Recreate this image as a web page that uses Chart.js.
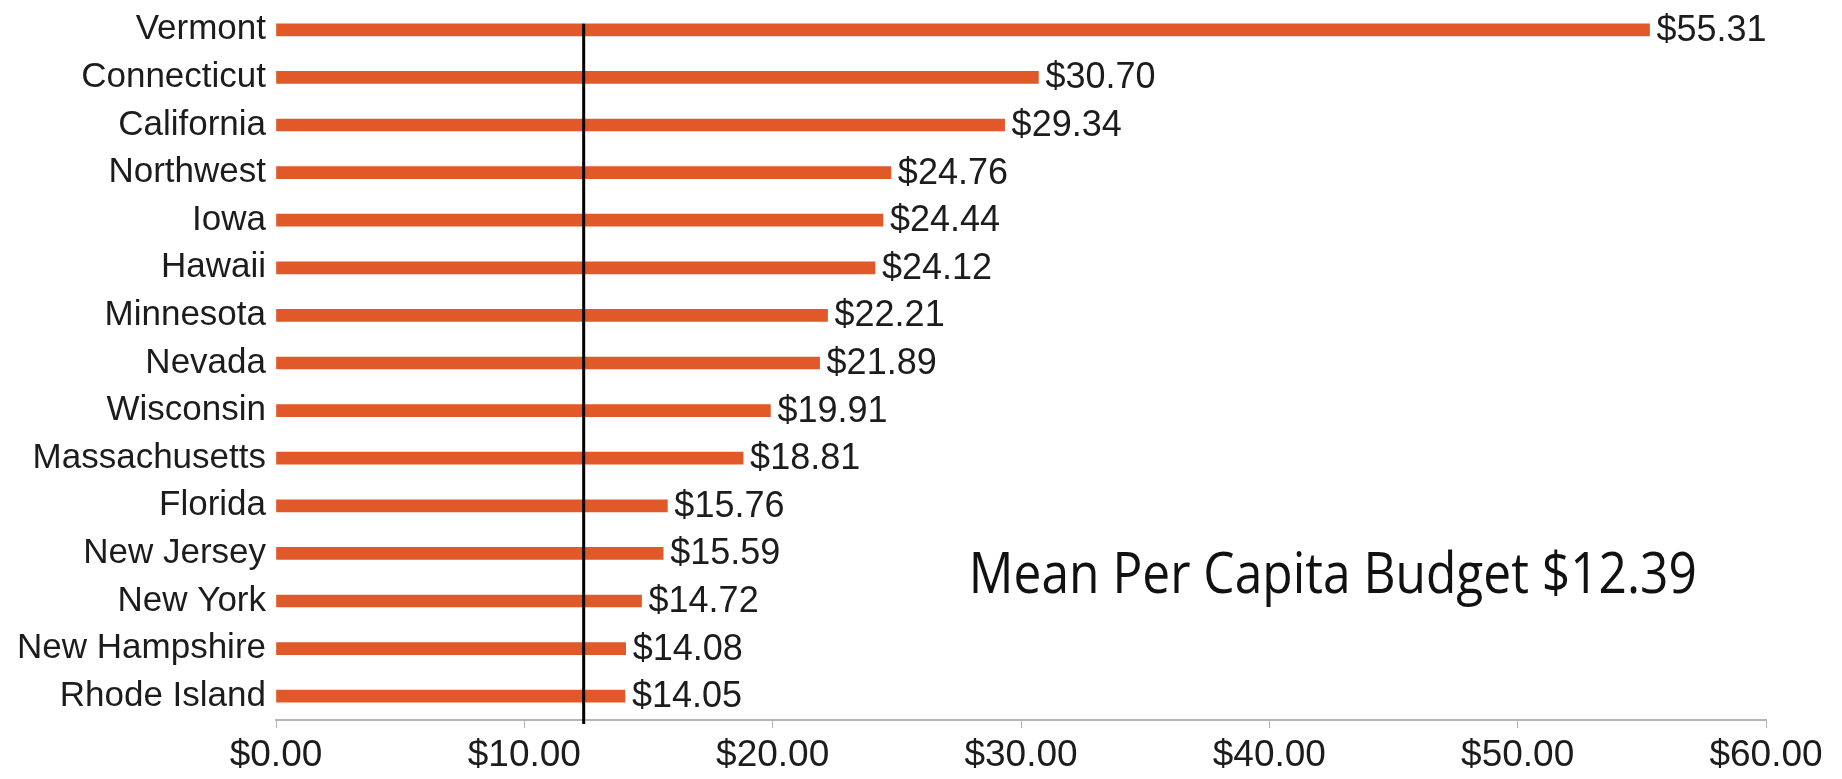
<!DOCTYPE html>
<html>
<head>
<meta charset="utf-8">
<script src="https://cdn.jsdelivr.net/npm/chart.js@4/dist/chart.umd.min.js"></script>
<style>
  html, body { margin: 0; padding: 0; background: #fff; }
  #wrap { width: 1842px; height: 779px; position: relative; }
</style>
</head>
<body>
<div id="wrap"><canvas id="chart"></canvas></div>
<script>
// data
const states = ["Vermont", "Connecticut", "California", "Northwest", "Iowa", "Hawaii",
  "Minnesota", "Nevada", "Wisconsin", "Massachusetts", "Florida", "New Jersey",
  "New York", "New Hampshire", "Rhode Island"]
const budget = [55.31, 30.70, 29.34, 24.76, 24.44, 24.12, 22.21, 21.89, 19.91, 18.81,
  15.76, 15.59, 14.72, 14.08, 14.05]
const meanBudget = 12.39
const xTicks = [0, 10, 20, 30, 40, 50, 60]
const noteText = "Mean Per Capita Budget $" + meanBudget.toFixed(2)

const font = "'Liberation Sans', Arial, sans-serif"
const ink = "#1c1c1c"

// draws the $ value after each bar
const valueLabels = {
  id: 'valueLabels',
  afterDatasetsDraw(chart) {
    const ctx = chart.ctx
    const meta = chart.getDatasetMeta(0)
    ctx.save()
    ctx.font = "36px " + font
    ctx.fillStyle = ink
    ctx.textBaseline = 'middle'
    ctx.textAlign = 'left'
    meta.data.forEach((bar, i) => {
      ctx.fillText("$" + budget[i].toFixed(2), bar.x + 7, bar.y + 1)
    })
    ctx.restore()
  }
}

// mean line + note text
const meanLine = {
  id: 'meanLine',
  afterDraw(chart) {
    const ctx = chart.ctx
    const x = chart.scales.x
    const y = chart.scales.y
    const px = x.getPixelForValue(meanBudget)
    ctx.save()
    ctx.strokeStyle = '#000'
    ctx.lineWidth = 3
    ctx.beginPath()
    ctx.moveTo(px, y.getPixelForValue(0) - 6)
    ctx.lineTo(px, chart.chartArea.bottom + 4)
    ctx.stroke()

    // note
    ctx.font = "57px 'Open Sans', 'Noto Sans', sans-serif"
    ctx.fillStyle = '#111'
    ctx.textBaseline = 'middle'
    const w = ctx.measureText(noteText).width
    const nx = x.getPixelForValue(27.9)
    const ny = y.getPixelForValue(11.5)
    ctx.translate(nx, ny)
    ctx.scale(728 / w, 1)
    ctx.fillText(noteText, 0, 0)
    ctx.restore()
  }
}

new Chart("chart", {
  type: "bar",
  data: {
    labels: states,
    datasets: [{
      data: budget,
      backgroundColor: "#e15829",
      barThickness: 12,
      borderWidth: 0
    }]
  },
  options: {
    indexAxis: 'y',
    responsive: true,
    maintainAspectRatio: false,
    animation: false,
    layout: { padding: { left: 4, right: 76, top: 6, bottom: 0 } },
    plugins: {
      legend: { display: false },
      tooltip: { enabled: false }
    },
    scales: {
      x: {
        min: 0,
        max: 60,
        afterBuildTicks: s => { s.ticks = xTicks.map(v => ({ value: v })) },
        afterFit: s => { s.height = 59 },
        border: { display: true, color: '#b5b5b5', width: 2 },
        grid: { drawOnChartArea: false, drawTicks: true, tickLength: 8, color: '#b5b5b5', lineWidth: 1 },
        ticks: {
          color: ink,
          padding: 6,
          font: { family: font, size: 37 },
          callback: v => "$" + Number(v).toFixed(2)
        }
      },
      y: {
        afterFit: s => { s.width = 272; s.paddingTop = 0; s.paddingBottom = 0 },
        border: { display: false },
        grid: { display: false },
        ticks: {
          color: ink,
          padding: 2,
          font: { family: font, size: 35 }
        }
      }
    }
  },
  plugins: [valueLabels, meanLine]
})
</script>
</body>
</html>
